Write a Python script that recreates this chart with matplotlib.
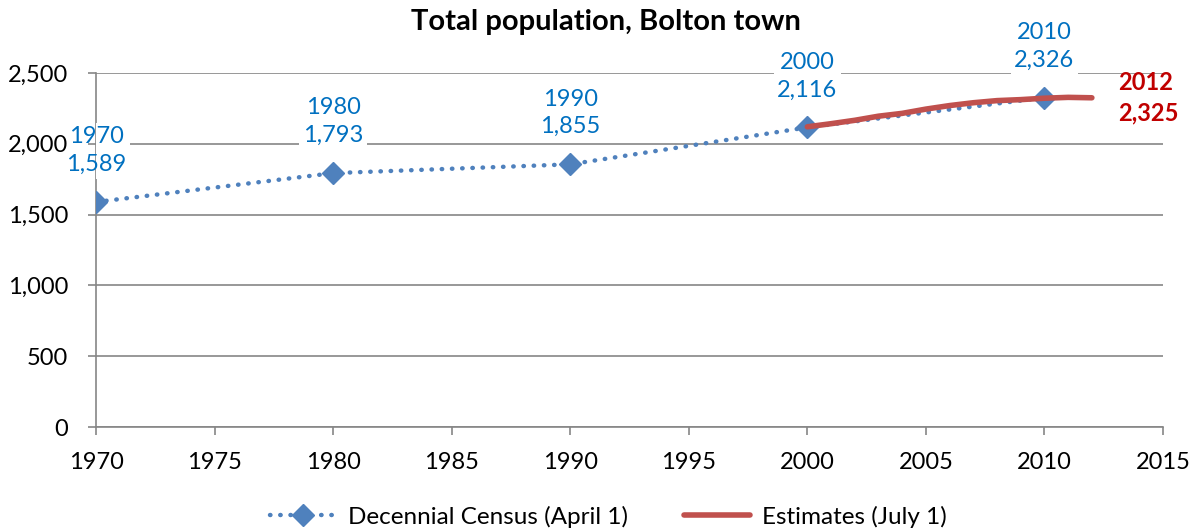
import matplotlib
matplotlib.use("Agg")
import matplotlib.pyplot as plt
from matplotlib.ticker import FuncFormatter, MultipleLocator

plt.rcParams['font.family'] = ['Lato', 'DejaVu Sans']

census_years = [1970, 1980, 1990, 2000, 2010]
census_values = [1589, 1793, 1855, 2116, 2326]
est_years = [2000, 2001, 2002, 2003, 2004, 2005, 2006, 2007, 2008, 2009, 2010, 2011, 2012]
est_values = [2120, 2142, 2166, 2195, 2215, 2245, 2270, 2290, 2305, 2312, 2322, 2328, 2325]

blue = '#4F81BD'
label_blue = '#0070C0'
red = '#C0504D'
dark_red = '#C00000'
grey = '#868686'

fig = plt.figure(figsize=(11.93, 5.31), dpi=100)
ax = fig.add_axes([96/1193, 1-427/531, (1163-96)/1193, (427-73)/531])

ax.plot(census_years, census_values, color=blue, linestyle=(0, (0.1, 2.2)), linewidth=3.2,
        dash_capstyle='round', marker='D', markersize=11, label='Decennial Census (April 1)', zorder=3)
ax.plot(est_years, est_values, color=red, linewidth=4, solid_capstyle='round',
        label='Estimates (July 1)', zorder=4)

for yr, v in zip(census_years, census_values):
    ann = ax.annotate(f"{yr}\n{v:,}", (yr, v), xytext=(0, 37), textcoords='offset points',
                      ha='center', va='center', color=label_blue, fontsize=17, linespacing=1.4,
                      bbox=dict(boxstyle='square,pad=0.15', fc='white', ec='none'), zorder=5,
                      annotation_clip=False)
    ann.get_bbox_patch().set_clip_box(ax.bbox)
    ann.get_bbox_patch().set_clip_on(True)

ax.annotate(f"{est_years[-1]}\n{est_values[-1]:,}", (est_years[-1], est_values[-1]),
            xytext=(19, 0), textcoords='offset points', ha='left', va='center',
            color=dark_red, fontsize=17, fontweight='bold', linespacing=1.4,
            annotation_clip=False)

ax.set_xlim(1970, 2015)
ax.set_ylim(0, 2500)
ax.xaxis.set_major_locator(MultipleLocator(5))
ax.yaxis.set_major_locator(MultipleLocator(500))
ax.yaxis.set_major_formatter(FuncFormatter(lambda v, p: f"{int(v):,}"))
ax.grid(axis='y', color=grey, linewidth=1.2)
ax.set_axisbelow(True)
for s in ['top', 'right']:
    ax.spines[s].set_visible(False)
for s in ['left', 'bottom']:
    ax.spines[s].set_color(grey)
    ax.spines[s].set_linewidth(1.2)
ax.tick_params(axis='both', labelsize=17, colors=grey, labelcolor='black', length=6, width=1.2)
ax.tick_params(axis='x', pad=12)
ax.tick_params(axis='y', pad=14)

fig.suptitle('Total population, Bolton town', x=606/1193, y=1-22/531, va='center',
             fontsize=21, fontweight='bold')

fig.legend(loc='lower center', bbox_to_anchor=(0.51, -0.035), ncol=2, frameon=False, fontsize=17.5,
           handlelength=2.7, columnspacing=2.3, handletextpad=0.5)

fig.savefig('out.png', dpi=100)
